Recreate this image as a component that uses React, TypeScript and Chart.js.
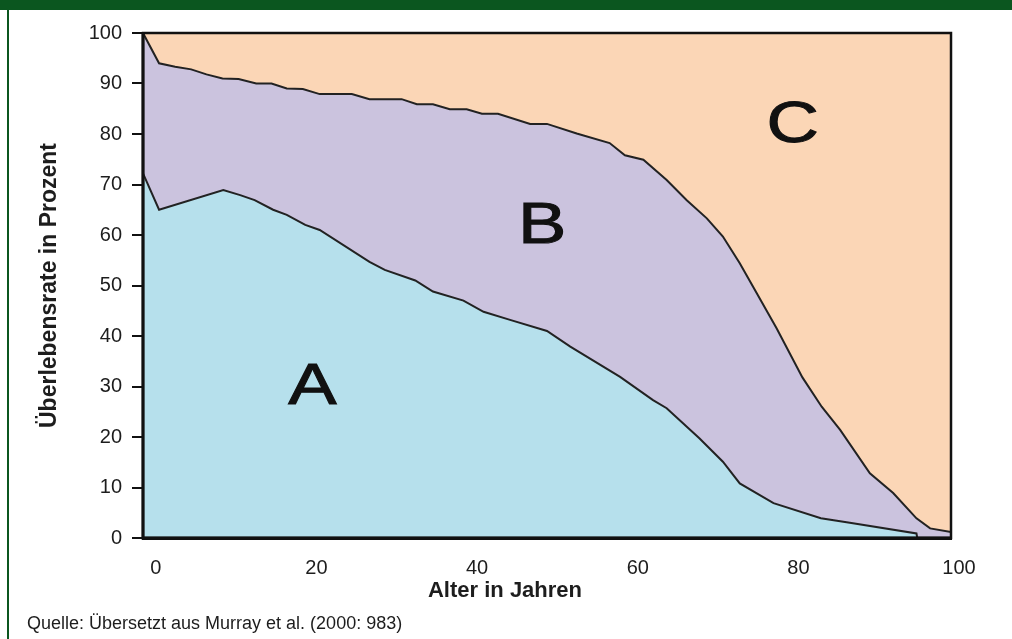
import React, { useEffect, useRef } from 'react';
import { Chart, registerables } from 'chart.js';

Chart.register(...registerables);

// Boundary between A and B (age in years, survival in percent)
const ageA = [-1.6, 0.4, 8.4, 10.5, 12.3, 14.6, 16.3, 18.6, 20.4, 26.6, 28.5, 32.3, 34.5, 38.3, 40.8, 44.1, 48.7, 51.6, 57.8, 61.9, 63.6, 67.7, 70.6, 72.7, 76.9, 82.8, 86.4, 94.7, 94.8];
const survA = [72.2, 65, 68.9, 67.9, 66.9, 65, 64, 62, 61, 54.7, 53.1, 51, 48.8, 47, 44.8, 43.2, 41, 37.9, 31.9, 27.3, 25.7, 19.7, 15.1, 10.8, 6.9, 3.9, 3.0, 0.9, 0];

// Boundary between B and C
const ageB = [-1.6, 0.4, 2.4, 4.4, 6.3, 8.3, 10.3, 12.5, 14.4, 16.3, 18.3, 20.4, 24.4, 26.6, 30.6, 32.5, 34.5, 36.6, 38.7, 40.6, 42.6, 46.6, 48.7, 52.4, 56.5, 58.4, 60.7, 63.6, 66.1, 68.6, 70.6, 72.7, 74.8, 77.3, 80.5, 82.9, 85.2, 88.9, 91.8, 94.7, 96.4, 99];
const survB = [100, 94, 93.3, 92.8, 91.8, 91.0, 90.9, 90.0, 90.0, 89.0, 88.9, 87.9, 87.9, 86.9, 86.9, 85.9, 85.9, 84.9, 84.9, 84.0, 84.0, 82.0, 82.0, 80.1, 78.2, 75.8, 74.9, 70.9, 66.9, 63.3, 59.7, 54.4, 48.5, 41.5, 31.8, 26.0, 21.4, 12.8, 8.9, 3.9, 1.9, 1.2];

// Upper limit (C region)
const ageC = [-1.6, 99];
const survC = [100, 100];

const xTicks = [0, 20, 40, 60, 80, 100];
const yTicks = [0, 10, 20, 30, 40, 50, 60, 70, 80, 90, 100];

const regionNames = ['A', 'B', 'C'];
const regionAge = [19.5, 48.1, 79.3];
const regionSurv = [30.7, 62.5, 82.6];

const xTitle = 'Alter in Jahren';
const yTitle = 'Überlebensrate in Prozent';
const sourceText = 'Quelle: Übersetzt aus Murray et al. (2000: 983)';

const FONT = '"Liberation Sans", Arial, Helvetica, sans-serif';
const INK = '#1d1d1d';

const toPoints = (xs: number[], ys: number[]) => xs.map((x, i) => ({ x, y: ys[i] }));

const decorPlugin = {
  id: 'decor',
  afterDatasetsDraw(chart: any) {
    const { ctx, chartArea: a, scales } = chart;
    const xs = scales.x;
    const ys = scales.y;
    ctx.save();
    ctx.fillStyle = '#111';
    ctx.font = `58px ${FONT}`;
    ctx.textAlign = 'center';
    ctx.textBaseline = 'alphabetic';
    regionNames.forEach((t, i) => {
      const px = xs.getPixelForValue(regionAge[i]);
      const py = ys.getPixelForValue(regionSurv[i]);
      ctx.save();
      ctx.translate(px, py);
      ctx.scale(1.25, 1);
      ctx.lineWidth = 1;
      ctx.strokeStyle = '#111';
      ctx.fillText(t, 0, 21);
      ctx.strokeText(t, 0, 21);
      ctx.restore();
    });
    ctx.strokeStyle = '#111';
    ctx.lineWidth = 2.5;
    ctx.strokeRect(a.left, a.top, a.right - a.left, a.bottom - a.top);
    ctx.beginPath();
    ctx.lineWidth = 3;
    ctx.moveTo(a.left, a.top);
    ctx.lineTo(a.left, a.bottom);
    ctx.lineTo(a.right, a.bottom);
    ctx.stroke();
    ctx.restore();
  },
  afterDraw(chart: any) {
    const { ctx } = chart;
    ctx.save();
    ctx.fillStyle = INK;
    ctx.font = `bold 22px ${FONT}`;
    ctx.textAlign = 'center';
    ctx.textBaseline = 'alphabetic';
    ctx.fillText(xTitle, 505, 597);
    ctx.font = `18px ${FONT}`;
    ctx.textAlign = 'left';
    ctx.fillText(sourceText, 27, 629);
    ctx.restore();
  },
};

export default function App() {
  const canvasRef = useRef<HTMLCanvasElement | null>(null);

  useEffect(() => {
    const canvas = canvasRef.current;
    if (!canvas) return;
    const chart = new Chart(canvas, {
      type: 'line',
      data: {
        datasets: [
          {
            label: 'A',
            data: toPoints(ageA, survA),
            borderColor: '#222',
            borderWidth: 2,
            backgroundColor: '#b6e0ec',
            fill: 'origin',
            pointRadius: 0,
            tension: 0,
          },
          {
            label: 'B',
            data: toPoints(ageB, survB),
            borderColor: '#222',
            borderWidth: 2,
            backgroundColor: '#cbc3de',
            fill: 'origin',
            pointRadius: 0,
            tension: 0,
          },
          {
            label: 'C',
            data: toPoints(ageC, survC),
            borderColor: 'rgba(0,0,0,0)',
            borderWidth: 0,
            backgroundColor: '#fbd6b6',
            fill: 'origin',
            pointRadius: 0,
            tension: 0,
          },
        ],
      },
      options: {
        responsive: false,
        animation: false,
        layout: { padding: { top: 33, right: 61, left: 0, bottom: 0 } },
        plugins: {
          legend: { display: false },
          tooltip: { enabled: false },
        },
        scales: {
          x: {
            type: 'linear',
            position: 'bottom',
            min: -1.6,
            max: 99,
            afterBuildTicks: (s: any) => {
              s.ticks = xTicks.map((v) => ({ value: v }));
            },
            afterFit: (s: any) => {
              s.height = 101;
            },
            grid: { display: false, drawTicks: false },
            border: { display: true, color: '#111', width: 3 },
            ticks: {
              autoSkip: false,
              maxRotation: 0,
              padding: 18,
              color: INK,
              font: { family: FONT, size: 20 },
            },
          },
          y: {
            type: 'linear',
            position: 'left',
            min: 0,
            max: 100,
            afterBuildTicks: (s: any) => {
              s.ticks = yTicks.map((v) => ({ value: v }));
            },
            afterFit: (s: any) => {
              s.width = 143;
            },
            grid: {
              display: true,
              drawOnChartArea: false,
              drawTicks: true,
              tickLength: 11,
              color: '#111',
              lineWidth: 2,
            },
            border: { display: true, color: '#111', width: 3 },
            ticks: {
              autoSkip: false,
              padding: 10,
              color: INK,
              font: { family: FONT, size: 20 },
            },
            title: {
              display: true,
              text: yTitle,
              color: INK,
              padding: { top: 36, bottom: 0 },
              font: { family: FONT, size: 23, weight: 'bold' },
            },
          },
        },
      },
      plugins: [decorPlugin],
    });
    return () => chart.destroy();
  }, []);

  return (
    <div style={{ position: 'fixed', left: 0, top: 0, width: 1012, height: 639, background: '#fff', overflow: 'hidden' }}>
      <div style={{ position: 'absolute', left: 0, top: 0, width: 1012, height: 10, background: '#0b561f' }} />
      <div style={{ position: 'absolute', left: 7, top: 0, width: 2, height: 639, background: '#0b561f' }} />
      <canvas
        ref={canvasRef}
        width={1012}
        height={639}
        style={{ position: 'absolute', left: 0, top: 0, width: 1012, height: 639 }}
      />
    </div>
  );
}
